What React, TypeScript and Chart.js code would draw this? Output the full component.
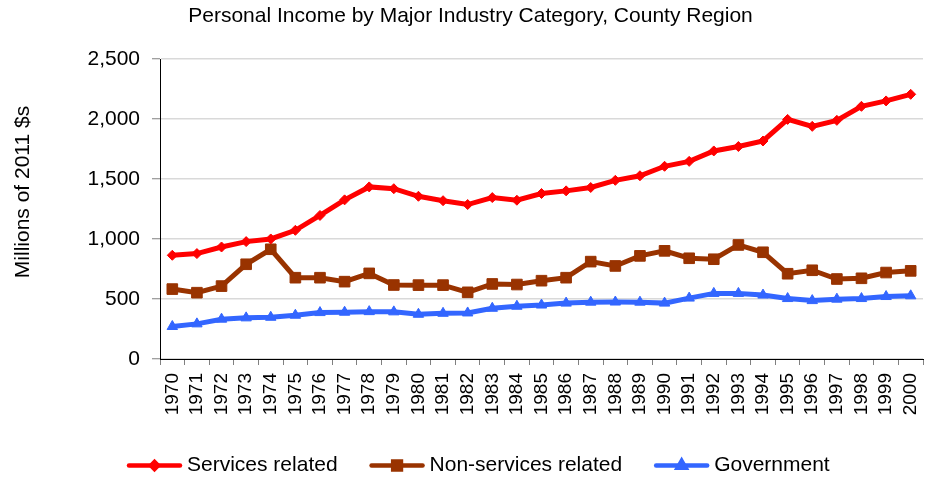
import React, { useEffect, useRef } from 'react';
import { Chart, registerables } from 'chart.js';
import { drawPoint } from 'chart.js/helpers';

Chart.register(...registerables);

const chartTitle = 'Personal Income by Major Industry Category, County Region';
const yAxisTitle = 'Millions of 2011 $s';

const years = [
  '1970', '1971', '1972', '1973', '1974', '1975', '1976', '1977', '1978', '1979',
  '1980', '1981', '1982', '1983', '1984', '1985', '1986', '1987', '1988', '1989',
  '1990', '1991', '1992', '1993', '1994', '1995', '1996', '1997', '1998', '1999', '2000',
];

const servicesRelated = [
  865, 879, 934, 979, 1001, 1073, 1197, 1327, 1435, 1420,
  1357, 1320, 1288, 1346, 1324, 1380, 1402, 1430, 1490, 1528,
  1607, 1648, 1735, 1772, 1818, 1998, 1940, 1990, 2107, 2152, 2207,
];

const nonServicesRelated = [
  583, 553, 608, 790, 915, 678, 678, 645, 714, 617,
  616, 616, 556, 626, 621, 653, 678, 812, 776, 860,
  902, 840, 832, 951, 890, 711, 740, 667, 673, 721, 735,
];

const government = [
  271, 293, 332, 343, 348, 365, 387, 390, 395, 393,
  373, 381, 384, 423, 440, 450, 466, 474, 475, 474,
  466, 508, 547, 547, 533, 504, 487, 499, 504, 521, 527,
];

const seriesNames = ['Services related', 'Non-services related', 'Government'];
const yMin = 0;
const yMax = 2500;
const yStep = 500;

const FONT = "'Liberation Sans', Arial, Helvetica, sans-serif";

const extrasPlugin = {
  id: 'extras',
  afterDraw(chart: any) {
    const ctx = chart.ctx;
    ctx.save();
    // y axis title
    ctx.font = `21px ${FONT}`;
    ctx.fillStyle = '#000';
    ctx.save();
    ctx.translate(23, 192);
    ctx.rotate(-Math.PI / 2);
    ctx.textAlign = 'center';
    ctx.textBaseline = 'middle';
    ctx.fillText(yAxisTitle, 0, 0);
    ctx.restore();

    // legend
    ctx.textAlign = 'left';
    ctx.textBaseline = 'middle';
    let x = 127;
    const y = 465.5;
    chart.data.datasets.forEach((ds: any) => {
      ctx.strokeStyle = ds.borderColor;
      ctx.lineWidth = 4.5;
      ctx.lineCap = 'round';
      ctx.beginPath();
      ctx.moveTo(x + 2, y);
      ctx.lineTo(x + 53, y);
      ctx.stroke();
      ctx.fillStyle = ds.pointBackgroundColor;
      ctx.strokeStyle = ds.pointBorderColor;
      drawPoint(ctx, { pointStyle: ds.pointStyle, radius: ds.legendRadius, rotation: 0, borderWidth: 1 }, x + 27.5, y);
      ctx.fillStyle = '#000';
      ctx.fillText(ds.label, x + 60, y);
      x += 60 + ctx.measureText(ds.label).width + 32;
    });
    ctx.restore();
  },
};

export default function App() {
  const canvasRef = useRef<HTMLCanvasElement | null>(null);

  useEffect(() => {
    document.body.style.margin = '0';
    const canvas = canvasRef.current;
    if (!canvas) return;
    const mk = (label: string, data: number[], color: string, pointStyle: string, radius: number, legendRadius: number) => ({
      label,
      data,
      borderColor: color,
      backgroundColor: color,
      pointBackgroundColor: color,
      pointBorderColor: color,
      pointStyle,
      pointRadius: radius,
      pointBorderWidth: 1,
      borderWidth: 5,
      tension: 0,
      fill: false,
      legendRadius,
    });
    const chart = new Chart(canvas, {
      type: 'line',
      data: {
        labels: years,
        datasets: [
          mk(seriesNames[0], servicesRelated, '#FF0000', 'rectRot', 5, 3.5),
          mk(seriesNames[1], nonServicesRelated, '#993300', 'rect', 7.5, 5.5),
          mk(seriesNames[2], government, '#3366FF', 'triangle', 6, 4.5),
        ] as any,
      },
      plugins: [extrasPlugin],
      options: {
        responsive: false,
        animation: false,
        devicePixelRatio: 1,
        layout: { autoPadding: false, padding: { left: 18, right: 2, top: 0, bottom: 40 } },
        plugins: {
          legend: { display: false },
          tooltip: { enabled: false },
          title: {
            display: true,
            text: chartTitle,
            color: '#000',
            font: { family: FONT, size: 21, weight: 'normal' },
            padding: { top: 4, bottom: 30 },
          },
        },
        scales: {
          x: {
            type: 'category',
            offset: true,
            grid: {
              display: true,
              offset: true,
              drawOnChartArea: false,
              drawTicks: true,
              tickLength: 6,
              tickColor: '#808080',
            },
            border: { display: true, color: '#000', width: 1 },
            ticks: {
              autoSkip: false,
              minRotation: 90,
              maxRotation: 90,
              padding: 8,
              color: '#000',
              font: { family: FONT, size: 19 },
            },
            afterFit: (s: any) => {
              s.height = 79;
              s.paddingLeft = 0;
              s.paddingRight = 0;
            },
          },
          y: {
            min: yMin,
            max: yMax,
            grid: {
              color: '#D9D9D9',
              lineWidth: 1.5,
              drawTicks: true,
              tickLength: 8,
              tickColor: '#808080',
              tickWidth: 1,
            },
            border: { display: true, color: '#000', width: 1 },
            ticks: {
              stepSize: yStep,
              padding: 12,
              color: '#000',
              font: { family: FONT, size: 21 },
              callback: (v: any) => Number(v).toLocaleString('en-US'),
            },
            afterFit: (s: any) => {
              s.width = 142;
            },
          },
        },
      } as any,
    });
    return () => chart.destroy();
  }, []);

  return (
    <div style={{ width: 925, height: 478 }}>
      <canvas ref={canvasRef} width={925} height={478} />
    </div>
  );
}
